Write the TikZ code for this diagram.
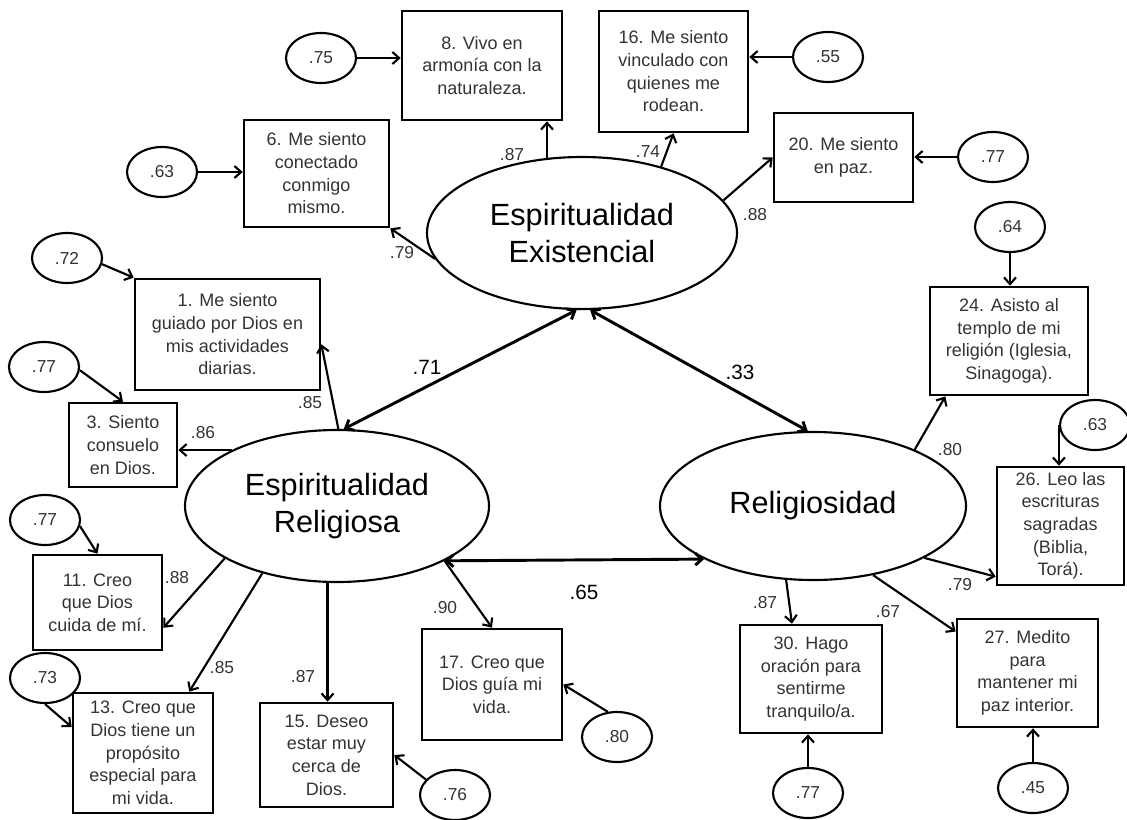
\documentclass[tikz,border=0pt]{standalone}
\usepackage{fontspec}
\setmainfont{Liberation Sans}
\usepackage{tikz}
\usetikzlibrary{arrows.meta,shapes.geometric}
\tikzset{
  >={Straight Barb[length=5pt,width=9pt]},
  item/.style={
    draw,
    line width=2pt,
    align=center,
    inner sep=2pt,
    text=black!80,
    font=\fontsize{13.5}{17}\selectfont
  },
  latent/.style={
    draw,
    ellipse,
    line width=1.6pt,
    inner sep=0pt,
    align=center,
    font=\fontsize{23}{27.75}\selectfont
  },
  errvar/.style={
    draw,
    ellipse,
    line width=1.6pt,
    inner sep=0pt,
    minimum width=52.5pt,
    minimum height=37.5pt,
    text=black!80,
    font=\fontsize{13}{15}\selectfont
  },
  load/.style={->, line width=1.6pt},
  covar/.style={<->, line width=2.2pt},
  coef/.style={inner sep=0pt, text=black!80, font=\fontsize{13}{15}\selectfont},
  bigcoef/.style={inner sep=0pt, font=\fontsize{15.5}{18}\selectfont}
}

\begin{document}
\begin{tikzpicture}[x=0.75pt,y=-0.75pt]
  \useasboundingbox (0,0) rectangle (1127,820);

  % Latent factors
  \node[latent,minimum width=232.5pt,minimum height=114pt] (ee) at (582,233) {Espiritualidad\\Existencial};
  \node[latent,minimum width=228pt,minimum height=114pt] (er) at (337,506) {Espiritualidad\\Religiosa};
  \node[latent,minimum width=229.5pt,minimum height=111pt] (rel) at (813,506) {Religiosidad};

  % Items of Espiritualidad Existencial
  \node[item,minimum width=120pt,minimum height=81.75pt] (b8) at (482,65.5) {8. Vivo en\\armonía con la\\naturaleza.};
  \node[item,minimum width=111.75pt,minimum height=90.75pt] (b16) at (673.5,71.5) {16. Me siento\\vinculado con\\quienes me\\rodean.};
  \node[item,minimum width=108.75pt,minimum height=80.25pt] (b6) at (316.5,173.5) {6. Me siento\\conectado\\conmigo\\mismo.};
  \node[item,minimum width=104.25pt,minimum height=66.75pt] (b20) at (843.5,157.5) {20. Me siento\\en paz.};

  % Items of Espiritualidad Religiosa
  \node[item,minimum width=138.75pt,minimum height=83.25pt] (b1) at (227.5,334.5) {1. Me siento\\guiado por Dios en\\mis actividades\\diarias.};
  \node[item,minimum width=81pt,minimum height=63pt] (b3) at (123,445) {3. Siento\\consuelo\\en Dios.};
  \node[item,minimum width=96.75pt,minimum height=71.25pt] (b11) at (97.5,602.5) {11. Creo\\que Dios\\cuida de mí.};
  \node[item,minimum width=105pt,minimum height=90pt] (b13) at (143,753) {13. Creo que\\Dios tiene un\\propósito\\especial para\\mi vida.};
  \node[item,minimum width=99.75pt,minimum height=78pt] (b15) at (326.5,755) {15. Deseo\\estar muy\\cerca de\\Dios.};
  \node[item,minimum width=105pt,minimum height=83.25pt] (b17) at (492,684.5) {17. Creo que\\Dios guía mi\\vida.};

  % Items of Religiosidad
  \node[item,minimum width=118.5pt,minimum height=81pt] (b24) at (1009,341) {24. Asisto al\\templo de mi\\religión (Iglesia,\\Sinagoga).};
  \node[item,minimum width=95.25pt,minimum height=88.5pt] (b26) at (1060.5,526) {26. Leo las\\escrituras\\sagradas\\(Biblia,\\Torá).};
  \node[item,minimum width=105.75pt,minimum height=81pt] (b27) at (1027.5,673) {27. Medito\\para\\mantener mi\\paz interior.};
  \node[item,minimum width=106.5pt,minimum height=81pt] (b30) at (811,679) {30. Hago\\oración para\\sentirme\\tranquilo/a.};

  % Error terms
  \node[errvar] (e75) at (321,58) {.75};
  \node[errvar] (e63a) at (162,172) {.63};
  \node[errvar] (e55) at (828,57) {.55};
  \node[errvar] (e77c) at (993,157) {.77};
  \node[errvar] (e64) at (1010,227) {.64};
  \node[errvar] (e63b) at (1095,425) {.63};
  \node[errvar] (e72) at (67,258) {.72};
  \node[errvar] (e77a) at (44,367) {.77};
  \node[errvar] (e77b) at (45,520) {.77};
  \node[errvar] (e73) at (45,678) {.73};
  \node[errvar] (e76) at (455,795) {.76};
  \node[errvar] (e80) at (617,737) {.80};
  \node[errvar] (e77d) at (808,793) {.77};
  \node[errvar] (e45) at (1033,788) {.45};

  % Loadings
  \draw[load] (ee.190) -- (b6.south east);
  \draw[load] (ee.115) -- (ee.115 |- b8.south);
  \draw[load] (ee.40) -- (b16.south);
  \draw[load] (ee.13) -- (b20.west);
  \draw[load] (er.89) -- (b1.-6);
  \draw[load] (er.152) -- (er.152 -| b3.east);
  \draw[load] (er.205) -- (b11.-21);
  \draw[load] (er.222) -- (b13.53);
  \draw[load] (er.263) -- (er.263 |- b15.north);
  \draw[load] (er.333) -- (b17.north);
  \draw[load] (rel.29) -- (b24.221);
  \draw[load] (rel.335) -- (b26.218);
  \draw[load] (rel.311) -- (b27.150);
  \draw[load] (rel.250) -- (b30.109);

  % Covariances
  \draw[covar] (er.85) -- (ee.266);
  \draw[covar] (ee.276) -- (rel.94);
  \draw[covar] (er.333) -- (rel.206);

  % Errors to items
  \draw[load] (e75.east) -- (e75.east -| b8.west);
  \draw[load] (e63a.east) -- (e63a.east -| b6.west);
  \draw[load] (e55.west) -- (e55.west -| b16.east);
  \draw[load] (e77c.west) -- (e77c.west -| b20.east);
  \draw[load] (e64.south) -- (e64.south |- b24.north);
  \draw[load] (e63b.west) -- (e63b.west |- b26.north);
  \draw[load] (e45.north) -- (e45.north |- b27.south);
  \draw[load] (e77d.north) -- (e77d.north |- b30.south);
  \draw[load] (e80.110) -- (b17.east);
  \draw[load] (e76.152) -- (b15.east);
  \draw[load] (e73.south) -- (b13.160);
  \draw[load] (e77b.-10) -- (b11.north);
  \draw[load] (e72.-10) -- (b1.north west);
  \draw[load] (e77a.-5) -- (b3.north);

  % Coefficients
  \node[coef] (l79) at (402,253) {.79};
  \node[coef] (l87a) at (512,155) {.87};
  \node[coef] (l74) at (648,152) {.74};
  \node[coef] (l88a) at (755,215) {.88};
  \node[coef] (l85a) at (310,403) {.85};
  \node[coef] (l86) at (203,433) {.86};
  \node[coef] (l88b) at (177,578) {.88};
  \node[coef] (l85b) at (222,668) {.85};
  \node[coef] (l87b) at (303,677) {.87};
  \node[coef] (l90) at (445,608) {.90};
  \node[coef] (l80) at (950,450) {.80};
  \node[coef] (l79b) at (960,585) {.79};
  \node[coef] (l67) at (888,612) {.67};
  \node[coef] (l87c) at (765,603) {.87};
  \node[bigcoef] (l71) at (427,367) {.71};
  \node[bigcoef] (l33) at (740,372) {.33};
  \node[bigcoef] (l65) at (584,592) {.65};
\end{tikzpicture}
\end{document}
